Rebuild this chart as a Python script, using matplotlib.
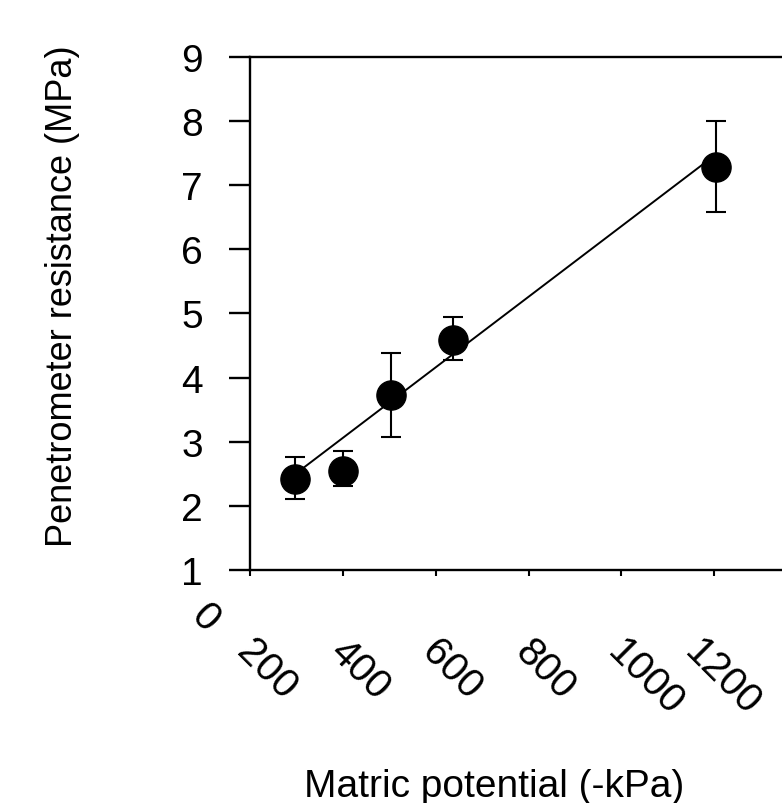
import numpy as np
import matplotlib
matplotlib.use("Agg")
import matplotlib.pyplot as plt
import matplotlib.transforms as mtransforms

plt.rcParams['font.family'] = ['Liberation Sans', 'DejaVu Sans']

# --- data ---
matric = [297, 400, 503, 637, 1203]          # -kPa
resist = [2.42, 2.55, 3.73, 4.58, 7.28]      # MPa
err_hi = [2.76, 2.86, 4.39, 4.94, 8.00]
err_lo = [2.10, 2.31, 3.08, 4.28, 6.58]

# regression line y = a + b*x
fit_a = 0.86
fit_b = 0.0055
fit_x = [300, 1195]

xticks = [200, 400, 600, 800, 1000, 1200]
yticks = [1, 2, 3, 4, 5, 6, 7, 8, 9]

x = np.array(matric)
y = np.array(resist)
yerr = np.vstack([y - np.array(err_lo), np.array(err_hi) - y])

fig = plt.figure(figsize=(7.82, 8.04), dpi=100)
ax = fig.add_axes([0.3197, 0.2898, 0.7123, 0.6381])

xf = np.array(fit_x)
ax.plot(xf, fit_a + fit_b * xf, color='black', lw=1.4, zorder=2)

ax.errorbar(x, y, yerr=yerr, fmt='o', color='black', ms=21,
            ecolor='black', elinewidth=1.5, capsize=7.5, capthick=1.5, zorder=3)

ax.set_xlim(200, 1400)
ax.set_ylim(1, 9)
ax.spines['right'].set_visible(False)
for s in ['left', 'bottom', 'top']:
    ax.spines[s].set_linewidth(1.7)

ax.set_yticks(yticks)
ax.tick_params(axis='y', direction='out', length=15, width=1.7, labelsize=28, pad=19)
ax.set_xticks(xticks)
ax.set_xticklabels([str(t) for t in xticks], rotation=-45, ha='left', va='top',
                   rotation_mode='anchor')
ax.tick_params(axis='x', direction='out', length=4.3, width=1.5, labelsize=29, pad=40)
labels = ax.get_xticklabels()
for i, lab in enumerate(labels):
    # last label sits right at the figure edge, pull it in a bit
    dx = 6 if i < len(labels) - 1 else -10
    shift = mtransforms.ScaledTranslation(dx / 100, 0, fig.dpi_scale_trans)
    lab.set_transform(lab.get_transform() + shift)

# the stray "0" label left of the first tick
ax.text(103, -0.092, '0', transform=ax.get_xaxis_transform(), rotation=-45,
        ha='center', va='center', fontsize=29)

ax.set_ylabel('Penetrometer resistance (MPa)', fontsize=26)
ax.yaxis.set_label_coords(-0.305, 0.536)
ax.set_xlabel('Matric potential (-kPa)', fontsize=28)
ax.xaxis.set_label_coords(0.438, -0.385)

fig.savefig('out.png', dpi=100)
